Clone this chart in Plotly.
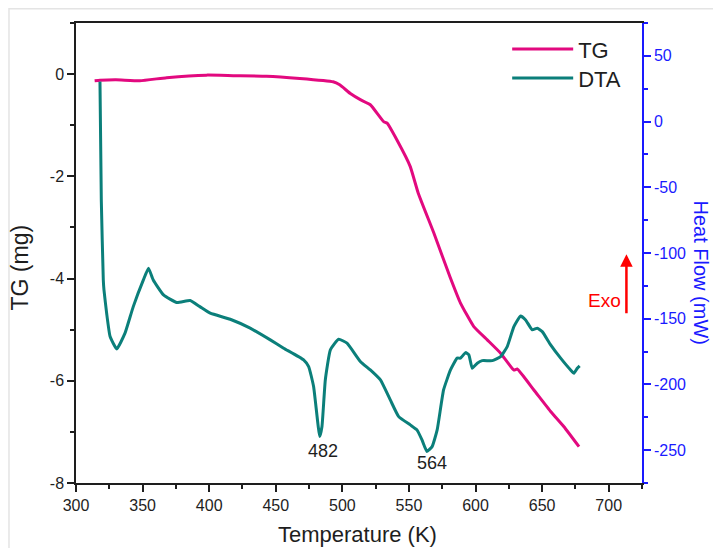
import plotly.graph_objects as go

# TG curve (temperature K, mass change mg)
tg_T = [314, 318, 330, 348, 368, 398, 418, 443, 468, 493, 498, 506, 513.5, 521, 531, 533.6,
        541, 551, 557, 568.7, 581, 588.7, 598.7, 608.8, 618.8, 628.8, 631.3, 643.8, 656.4, 666.4, 677.7]
tg_mg = [-0.13, -0.12, -0.11, -0.13, -0.07, -0.02, -0.03, -0.04, -0.085, -0.15, -0.21, -0.38, -0.5,
         -0.6, -0.93, -0.96, -1.29, -1.81, -2.33, -3.11, -3.98, -4.48, -4.94, -5.2, -5.46, -5.79,
         -5.77, -6.18, -6.6, -6.9, -7.29]

# DTA curve (temperature K, heat flow mW)
dta_T = [318, 319, 320.5, 321, 323, 325.6, 330.6, 336.8, 343, 350.6, 354.4, 358, 365.7, 375.7,
         385.7, 393, 400.8, 415.8, 430.8, 445.9, 455.9, 470.9, 474.7, 478.4, 483, 484.7, 487.2,
         491, 497.2, 503.5, 513.5, 521, 528.6, 536, 542.3, 551, 556, 559.8, 563.5, 567.4, 571.2,
         576, 581.2, 586.2, 588.7, 592.5, 595, 597.5, 601.3, 605, 612.6, 618.8, 623.8, 628.8,
         633.8, 637.6, 642.6, 646.4, 650.1, 656.4, 663.9, 671.4, 673.9, 676.4, 678.2]
dta_mW = [30.4, -59.6, -120.5, -128, -145.8, -163.6, -173, -161, -140.8, -120.5, -111.6, -120.5,
          -131.9, -137.7, -136.2, -140.8, -145.8, -150.4, -157.2, -166.1, -172.4, -181.3, -186.4,
          -201.6, -239.7, -232, -196.6, -173.7, -165.6, -168.6, -182.5, -189, -196.6, -211.8,
          -224.5, -230.8, -234.6, -242.2, -251, -247.3, -234.6, -204.2, -189, -180, -180, -175.8,
          -177.5, -187.7, -183.9, -181.9, -181.9, -178.8, -171.2, -156, -147.9, -150.9, -158.5,
          -157.2, -159.8, -169.9, -180, -189, -191.5, -187.7, -185.9]

peak_T = [482, 564]
peak_labels = ["482", "564"]

x_ticks = [300, 350, 400, 450, 500, 550, 600, 650, 700]
y_ticks = [0, -2, -4, -6, -8]
y_ticklabels = ["0", "-2", "-4", "-6", "-8"]
y2_ticks = [50, 0, -50, -100, -150, -200, -250]
y2_ticklabels = ["50", "0", "-50", "-100", "-150", "-200", "-250"]

FONT = "Liberation Sans, Arial, sans-serif"
TG_COLOR = "#E2097F"
DTA_COLOR = "#0B7F7A"
BLUE = "#1A1AFF"
INK = "#1E1E1E"

fig = go.Figure()
fig.add_trace(go.Scatter(x=tg_T, y=tg_mg, mode="lines", name="TG", legend="legend",
                         line=dict(color=TG_COLOR, width=3, shape="spline", smoothing=0.4)))
fig.add_trace(go.Scatter(x=dta_T, y=dta_mW, mode="lines", name="DTA", yaxis="y2", legend="legend2",
                         line=dict(color=DTA_COLOR, width=3, shape="spline", smoothing=0.4)))

annotations = []
for t, lab, yv in zip([485.5, 567], peak_labels, [-250.5, -259.5]):
    annotations.append(dict(x=t, y=yv, xref="x", yref="y2", text=lab, showarrow=False,
                            font=dict(family=FONT, size=18, color=INK)))
# Exo arrow
annotations.append(dict(x=713.3, y=-101, ax=713.3, ay=-147, xref="x", yref="y2",
                        axref="x", ayref="y2", text="", showarrow=True,
                        arrowhead=2, arrowsize=1, arrowwidth=2.5, arrowcolor="#FF0000"))
annotations.append(dict(x=711, y=-136, xref="x", yref="y2", text="Exo", showarrow=False,
                        xanchor="right", font=dict(family=FONT, size=19, color="#FF0000")))
# axis titles
annotations.append(dict(x=0.4965, y=-0.113, xref="paper", yref="paper", text="Temperature (K)",
                        showarrow=False, xanchor="center", yanchor="middle",
                        font=dict(family=FONT, size=22, color=INK)))
annotations.append(dict(x=-0.0972, y=0.4685, xref="paper", yref="paper", text="TG (mg)",
                        showarrow=False, textangle=-90, xanchor="center", yanchor="middle",
                        font=dict(family=FONT, size=23, color=INK)))
annotations.append(dict(x=1.1034, y=0.4587, xref="paper", yref="paper", text="Heat Flow (mW)",
                        showarrow=False, textangle=90, xanchor="center", yanchor="middle",
                        font=dict(family=FONT, size=20, color=BLUE)))

legend_common = dict(xanchor="left", yanchor="middle", bgcolor="rgba(0,0,0,0)",
                     font=dict(family=FONT, size=22, color=INK), itemwidth=61)

fig.update_layout(
    width=705, height=540,
    margin=dict(l=68, r=71, t=15, b=65, autoexpand=False),
    paper_bgcolor="white", plot_bgcolor="white",
    font=dict(family=FONT, color=INK),
    showlegend=True,
    legend=dict(x=0.7618, y=0.9428, **legend_common),
    legend2=dict(x=0.7618, y=0.8798, **legend_common),
    xaxis=dict(range=[300, 725], tickvals=x_ticks, showgrid=False, zeroline=False,
               showline=True, linecolor=INK, linewidth=1.5, mirror=True, automargin=False,
               ticks="outside", ticklen=7, tickwidth=1.5, tickcolor=INK,
               minor=dict(dtick=25, ticks="outside", ticklen=4, tickwidth=1.5, tickcolor=INK),
               tickfont=dict(family=FONT, size=16, color=INK)),
    yaxis=dict(range=[-8, 1], tickvals=y_ticks, ticktext=y_ticklabels, showgrid=False,
               zeroline=False, automargin=False,
               showline=True, linecolor=INK, linewidth=1.5,
               ticks="outside", ticklen=7, tickwidth=1.5, tickcolor=INK,
               minor=dict(dtick=1, ticks="outside", ticklen=4, tickwidth=1.5, tickcolor=INK),
               tickfont=dict(family=FONT, size=16, color=INK)),
    yaxis2=dict(range=[-275, 75], tickvals=y2_ticks, ticktext=y2_ticklabels, overlaying="y",
                side="right", automargin=False,
                showgrid=False, zeroline=False, showline=True, linecolor=BLUE, linewidth=1.5,
                ticks="outside", ticklen=7, tickwidth=1.5, tickcolor=BLUE,
                minor=dict(dtick=25, ticks="outside", ticklen=4, tickwidth=1.5, tickcolor=BLUE),
                tickfont=dict(family=FONT, size=16, color=BLUE)),
    annotations=annotations,
    shapes=[dict(type="rect", xref="paper", yref="paper", x0=-0.1184, y0=-0.2, x1=1.3, y1=1.031,
                 line=dict(color="#E4E4E4", width=1.5), fillcolor="rgba(0,0,0,0)", layer="below")],
)

fig.write_html("out.html")
